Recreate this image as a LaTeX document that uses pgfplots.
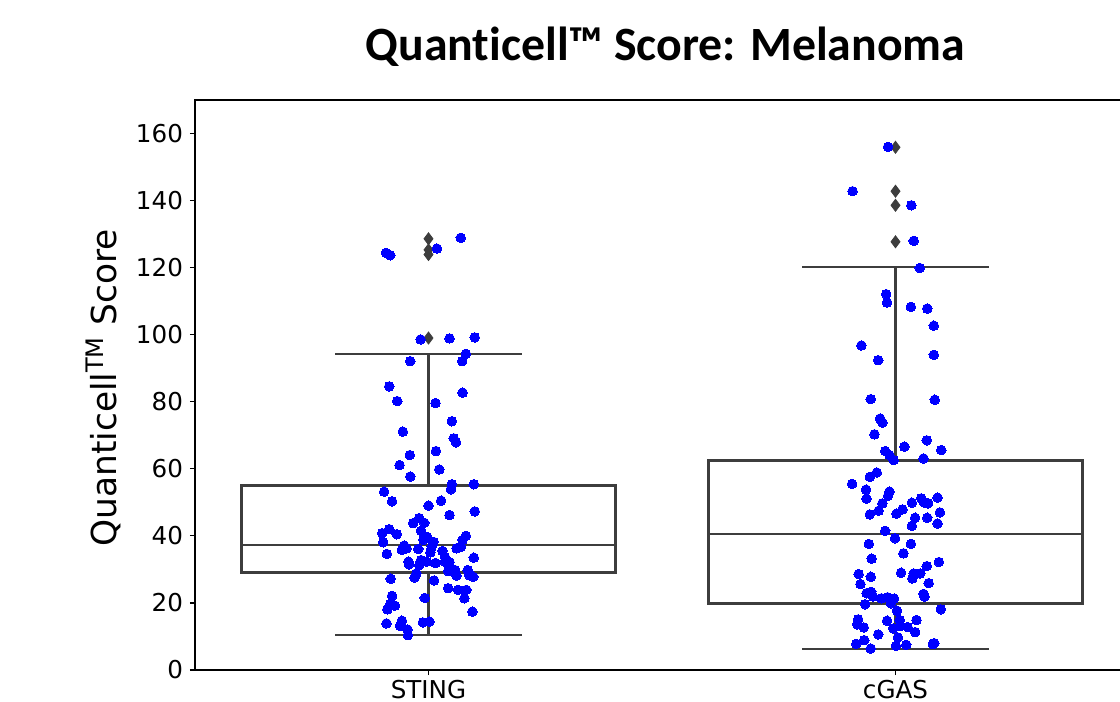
\documentclass[border=0pt]{standalone}
\usepackage{pgfplots}
\pgfplotsset{compat=1.18}
\usepackage{fontspec}
\setmainfont{DejaVu Sans}
\newfontfamily\titlefont{Carlito}[Ligatures=NoCommon]
\definecolor{boxgray}{RGB}{61,61,61}
\definecolor{dotblue}{RGB}{0,0,255}

\begin{document}
\begin{tikzpicture}
% picture is cut at the right, as in the reference
\clip (-97.5pt,-16pt) rectangle (462.5pt,335pt);
\begin{axis}[
  scale only axis, width=467pt, height=285pt,
  xmin=-0.5, xmax=1.5, ymin=0, ymax=170,
  xtick={0,1}, xticklabels={STING,cGAS},
  ytick={0,20,...,160},
  tick pos=left, tick align=outside,
  major tick length=2.5pt,
  tick style={black, line width=0.6pt},
  axis line style={black, line width=0.7pt},
  ticklabel style={font=\fontsize{12.3}{14}\selectfont},
  xticklabel style={yshift=0.8pt},
  /pgf/number format/assume math mode=true,
  ylabel={Quanticell\textsuperscript{TM} Score},
  ylabel style={font=\fontsize{17.2}{20}\selectfont,
    at={(axis description cs:-0.0845,0.495)}, anchor=base},
  title={\titlefont\bfseries Quanticell™ Score: Melanoma},
  title style={font=\fontsize{23.9}{28}\selectfont,
    at={(axis description cs:0.5037,1)}, anchor=base, yshift=13.5pt},
  unbounded coords=jump,
]
% whiskers and caps
\addplot[boxgray, line width=1.2pt] coordinates {
(0,55.1) (0,94.3) (0,nan) (-0.2,94.3) (0.2,94.3) (0,nan)
(0,29.1) (0,10.5) (0,nan) (-0.2,10.5) (0.2,10.5) (0,nan)
(1,62.6) (1,120.2) (1,nan) (0.8,120.2) (1.2,120.2) (1,nan)
(1,19.9) (1,6.2) (1,nan) (0.8,6.2) (1.2,6.2)
};
% boxes (Q1 to Q3)
\addplot[boxgray, line width=1.4pt, line join=miter] coordinates {
(-0.4,29.1) (0.4,29.1) (0.4,55.1) (-0.4,55.1) (-0.4,29.1) (0.4,29.1)
};
\addplot[boxgray, line width=1.4pt, line join=miter] coordinates {
(0.6,19.9) (1.4,19.9) (1.4,62.6) (0.6,62.6) (0.6,19.9) (1.4,19.9)
};
% medians
\addplot[boxgray, line width=1pt] coordinates {
(-0.4,37.4) (0.4,37.4) (0,nan) (0.6,40.5) (1.4,40.5)
};
% outliers
\addplot[only marks, mark=diamond*, mark size=3pt,
  mark options={fill=boxgray, draw=boxgray}] coordinates {
(0,128.6) (0,125.3) (0,123.9) (0,99.0)
(1,155.9) (1,142.8) (1,138.6) (1,127.7)
};

% STING points (jittered)
\addplot[only marks, mark=*, mark size=2.4pt,
  mark options={draw=dotblue, fill=dotblue, line width=0pt}]
coordinates {
(-0.091,124.4) (-0.082,123.7) (0.018,125.7) (0.069,128.9) (-0.017,98.6)
(0.045,98.9) (0.099,99.2) (0.080,94.3) (-0.039,92.1) (0.072,92.1)
(-0.084,84.6) (0.073,82.7) (-0.067,80.2) (0.015,79.6) (0.050,74.2)
(-0.055,71.1) (0.054,69.1) (0.059,67.9) (0.016,65.3) (-0.040,64.1)
(-0.062,61.1) (0.023,59.8) (-0.039,57.7) (0.050,55.4) (0.097,55.4)
(0.048,53.9) (-0.095,53.2) (-0.078,50.3) (0.027,50.5) (0.000,49.0)
(0.099,47.3) (0.045,46.2) (-0.020,45.3) (-0.033,43.8) (-0.009,43.9)
(-0.084,42.0) (-0.099,40.8) (-0.068,40.5) (-0.016,41.5) (0.080,40.0)
(-0.003,39.7) (0.073,38.8) (-0.097,38.1) (-0.011,38.8) (0.011,38.2)
(-0.052,37.1) (-0.057,35.8) (-0.047,36.3) (-0.022,36.1) (0.060,36.3)
(0.070,36.8) (0.007,36.8) (0.004,35.1) (0.030,35.5) (-0.089,34.6)
(0.097,33.5) (0.035,33.8) (-0.043,32.3) (-0.042,31.5) (-0.016,32.8)
(-0.004,32.3) (0.015,31.9) (-0.020,31.3) (0.035,32.3) (0.045,32.2)
(0.042,29.5) (0.057,29.8) (0.084,29.8) (0.060,28.1) (0.087,28.3)
(0.096,27.8) (-0.026,28.8) (-0.030,27.6) (-0.081,27.2) (0.012,26.7)
(0.042,24.4) (0.063,23.9) (0.081,23.9) (-0.078,22.1) (-0.008,21.5)
(0.077,21.4) (-0.082,19.6) (-0.072,19.2) (-0.088,18.1) (0.094,17.4)
(-0.090,13.9) (-0.057,14.7) (-0.061,13.2) (-0.012,14.2) (0.002,14.4)
(-0.045,12.1) (-0.044,10.4)
};

% cGAS points (jittered)
\addplot[only marks, mark=*, mark size=2.4pt,
  mark options={draw=dotblue, fill=dotblue, line width=0pt}]
coordinates {
(0.984,156.0) (0.908,142.8) (1.034,138.6) (1.039,128.0) (1.052,119.9)
(0.980,112.1) (0.982,109.6) (1.033,108.3) (1.068,107.8) (1.082,102.7)
(0.927,96.8) (0.963,92.4) (1.082,94.0) (0.947,80.8) (1.084,80.6)
(0.967,75.0) (0.972,73.8) (0.955,70.3) (1.067,68.5) (1.019,66.6)
(1.098,65.6) (0.978,65.3) (0.987,64.1) (0.996,62.6) (1.060,63.1)
(0.960,58.9) (0.945,57.6) (0.907,55.5) (0.937,53.8) (0.987,53.2)
(0.984,51.9) (0.938,51.1) (1.055,51.2) (1.090,51.4) (1.061,50.0)
(1.070,49.7) (1.035,49.9) (0.972,49.7) (1.015,47.9) (1.095,47.0)
(0.964,47.5) (0.945,46.4) (1.002,46.6) (1.042,45.4) (1.068,45.4)
(1.090,43.7) (1.035,43.0) (0.978,41.5) (0.999,39.3) (0.943,37.6)
(1.033,37.6) (1.017,34.8) (0.949,33.2) (1.093,32.2) (1.067,31.0)
(0.921,28.6) (0.947,27.8) (1.012,29.0) (1.039,28.8) (1.053,28.8)
(1.036,27.3) (0.925,25.6) (1.071,25.9) (1.060,22.7) (1.062,21.9)
(0.938,22.9) (0.948,23.3) (0.952,21.9) (0.970,21.4) (0.983,21.7)
(0.997,21.3) (0.990,19.9) (0.935,19.6) (1.003,17.7) (1.097,18.1)
(0.920,15.1) (0.982,14.7) (1.009,14.9) (1.045,14.9) (0.918,13.6)
(0.932,12.7) (0.995,12.4) (1.010,13.1) (1.026,12.8) (1.042,11.3)
(0.963,10.6) (1.005,9.7) (0.933,8.9) (0.916,7.8) (1.001,7.2)
(1.023,7.5) (1.080,7.7) (1.083,8.0) (0.947,6.4)
};
\end{axis}
\end{tikzpicture}
\end{document}
